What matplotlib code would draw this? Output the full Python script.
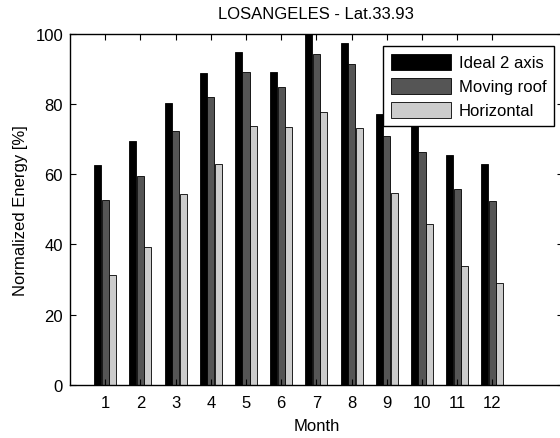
import matplotlib
matplotlib.use("Agg")
import matplotlib.pyplot as plt
import numpy as np

plt.rcParams["font.family"] = ["Liberation Sans", "DejaVu Sans"]

months = [1, 2, 3, 4, 5, 6, 7, 8, 9, 10, 11, 12]
ideal = [62.7, 69.5, 80.3, 88.7, 94.6, 89.1, 100.0, 97.2, 77.0, 74.0, 65.5, 63.0]
moving = [52.7, 59.6, 72.3, 81.8, 89.1, 84.8, 94.1, 91.2, 70.9, 66.2, 55.9, 52.3]
horiz = [31.3, 39.2, 54.2, 62.9, 73.8, 73.4, 77.7, 73.1, 54.7, 45.9, 33.8, 29.0]
labels = ["Ideal 2 axis", "Moving roof", "Horizontal"]
colors = ["#000000", "#555555", "#cccccc"]

fig = plt.figure(figsize=(5.6, 4.39), dpi=100)
ax = fig.add_axes([0.125, 0.1207, 0.88, 0.8007])

x = np.array(months)
offsets = [-0.215, 0.0, 0.215]
for vals, off, c, lab in zip([ideal, moving, horiz], offsets, colors, labels):
    ax.bar(x + off, vals, width=0.2, color=c, edgecolor="black", linewidth=0.6, label=lab)

ax.set_xlim(0, 14)
ax.set_ylim(0, 100)
ax.set_xticks(months)
ax.set_yticks([0, 20, 40, 60, 80, 100])
ax.tick_params(direction="in", top=True, right=True, labelsize=12, length=4)
ax.tick_params(axis="x", pad=7)
ax.tick_params(axis="y", pad=5)
for s in ax.spines.values():
    s.set_linewidth(1.0)

ax.set_xlabel("Month", fontsize=12, labelpad=6)
ax.set_ylabel("Normalized Energy [%]", fontsize=12, labelpad=5)
ax.set_title("LOSANGELES - Lat.33.93", fontsize=12, pad=11)

leg = ax.legend(loc="upper right", bbox_to_anchor=(554 / 560, 1 - 47 / 439),
                bbox_transform=fig.transFigure, borderaxespad=0, fontsize=12,
                fancybox=False, framealpha=1, edgecolor="black",
                handlelength=3.6, handleheight=1.1, labelspacing=0.45,
                handletextpad=0.5, borderpad=0.45)
leg.get_frame().set_linewidth(1.0)

fig.savefig("out.png", dpi=100)
